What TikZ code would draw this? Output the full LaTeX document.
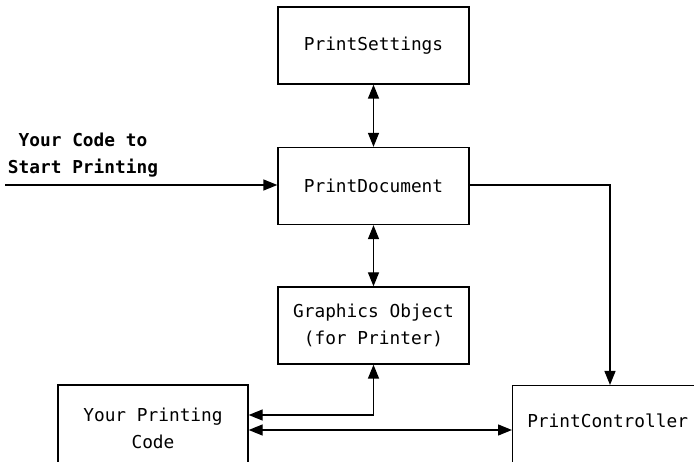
\documentclass[tikz,border=0pt]{standalone}
\usepackage{fontspec}
\setmonofont{DejaVu Sans Mono}
\usetikzlibrary{arrows.meta}
\begin{document}
\begin{tikzpicture}[x=1pt,y=-1pt]

  \tikzstyle{box} = [draw, line width=1.3, inner sep=0, minimum width=191, minimum height=77, align=center]
  \tikzstyle{link} = [line width=1.3, {Triangle[length=14pt,width=11pt]}-{Triangle[length=14pt,width=11pt]}]
  \tikzstyle{oneway} = [line width=1.3, -{Triangle[length=14pt,width=11pt]}]

  \useasboundingbox (0,0) rectangle (694,462);
  \clip (0,0) rectangle (694,462);

  \ttfamily\fontsize{17.8}{27}\selectfont

  \node[box] (settings) at (373.5,45.5) {PrintSettings};
  \node[box] (doc) at (373.5,186) {PrintDocument};
  \node[box] (gfx) at (373.5,325.5) {Graphics Object\\(for Printer)};

  \node[box, minimum width=190, minimum height=86] (code) at (153,428) {Your Printing\\Code};
  \node[box, minimum width=190, minimum height=100, anchor=north west] (ctrl) at (512,385) {};
  \node (ctrltext) at ([yshift=-36pt]ctrl.north) {PrintController};

  \node[align=center, font=\bfseries] (start) at (83,155) {Your Code to\\Start Printing};
  \coordinate (in) at (5,185);
  \coordinate (corner) at (610,185);

  \draw[oneway] (in) -- (in -| doc.west);
  \draw[oneway] (doc.east |- corner) -- (corner) -- (corner |- ctrl.north);

  \draw[link] (settings.south) -- (doc.north);
  \draw[link] (doc.south) -- (gfx.north);

  \draw[link] ([yshift=13pt]code.east) -| (gfx.south);
  \draw[link] ([yshift=-2pt]code.east) -- ([yshift=-2pt]code.east -| ctrl.west);

  %\draw[dashed] (code.south) -- (ctrl.south);

\end{tikzpicture}
\end{document}
